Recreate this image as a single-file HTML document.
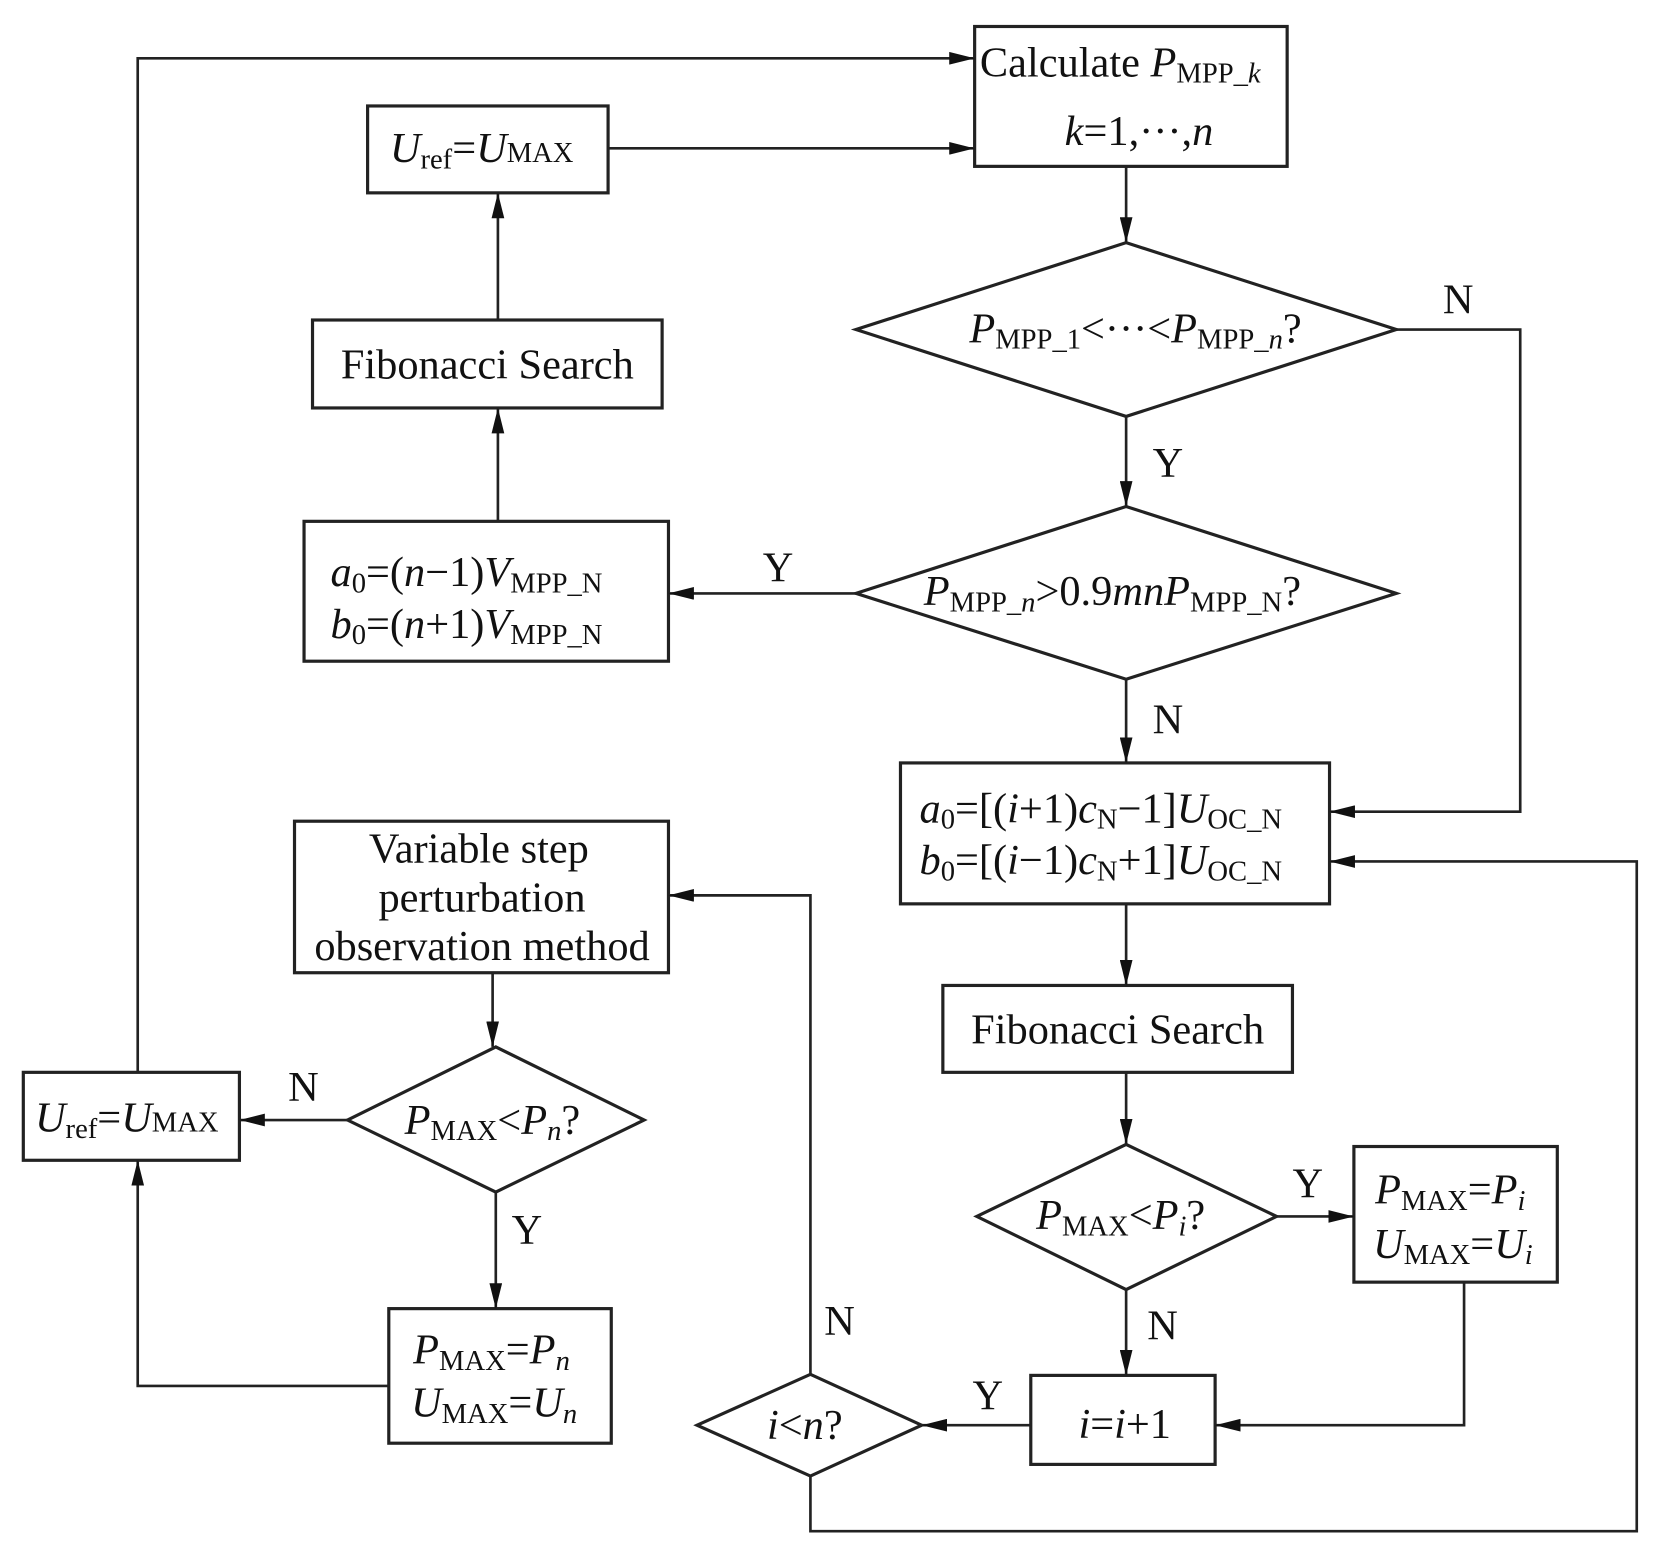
<!DOCTYPE html>
<html><head><meta charset="utf-8"><style>
html,body{margin:0;padding:0;background:#fff;}
svg{display:block;}
text{font-family:"Liberation Serif",serif;font-size:40px;fill:#111;}
.s{font-size:27px;}
.i{font-style:italic;}
</style></head><body>
<svg width="1659" height="1564" viewBox="0 0 1566 1476" preserveAspectRatio="none" xmlns="http://www.w3.org/2000/svg">
<defs>
<marker id="b" viewBox="0 0 24 12" refX="24" refY="6" markerWidth="24" markerHeight="12" orient="auto" markerUnits="userSpaceOnUse"><path d="M0,0 L24,6 L0,12 Z" fill="#111"/></marker></defs>
<g fill="none" stroke="#222" stroke-width="3">
<rect x="920" y="25" width="295" height="132"/>
<rect x="347" y="100" width="227" height="82"/>
<rect x="295" y="302" width="330" height="83"/>
<rect x="287" y="492" width="344" height="132"/>
<polygon points="808,311 1063,229 1318,311 1063,393"/>
<polygon points="808,560 1063,478 1318,560 1063,641"/>
<rect x="850" y="720" width="405" height="133"/>
<rect x="890" y="930" width="330" height="82"/>
<polygon points="922,1148 1063,1080 1205,1148 1063,1217"/>
<rect x="1278" y="1082" width="192" height="128"/>
<rect x="973" y="1298" width="174" height="84"/>
<polygon points="658,1345 765,1297 870,1345 765,1393"/>
<rect x="278" y="775" width="353" height="143"/>
<polygon points="328,1057 468,988 608,1057 468,1125"/>
<rect x="22" y="1012" width="204" height="83"/>
<rect x="367" y="1235" width="210" height="127"/>
</g>
<g fill="none" stroke="#222" stroke-width="2.5" marker-end="url(#b)">
<polyline points="130,1012 130,55 920,55"/>
<line x1="574" y1="140" x2="920" y2="140"/>
<line x1="470" y1="302" x2="470" y2="182"/>
<line x1="470" y1="492" x2="470" y2="385"/>
<line x1="1063" y1="157" x2="1063" y2="229"/>
<polyline points="1318,311 1435,311 1435,766 1255,766"/>
<line x1="1063" y1="393" x2="1063" y2="478"/>
<line x1="808" y1="560" x2="631" y2="560"/>
<line x1="1063" y1="641" x2="1063" y2="720"/>
<line x1="1063" y1="853" x2="1063" y2="930"/>
<line x1="1063" y1="1012" x2="1063" y2="1080"/>
<line x1="1205" y1="1148" x2="1278" y2="1148"/>
<polyline points="1382,1210 1382,1345 1147,1345"/>
<line x1="1063" y1="1217" x2="1063" y2="1298"/>
<line x1="973" y1="1345" x2="870" y2="1345"/>
<polyline points="765,1297 765,845 631,845"/>
<polyline points="765,1393 765,1445 1545,1445 1545,813 1255,813"/>
<line x1="465" y1="918" x2="465" y2="988"/>
<line x1="328" y1="1057" x2="226" y2="1057"/>
<line x1="468" y1="1125" x2="468" y2="1235"/>
<polyline points="367,1308 130,1308 130,1095"/>
</g>
<text x="925" y="72">Calculate <tspan class="i">P</tspan><tspan class="s" dy="6">MPP_</tspan><tspan class="s i">k</tspan></text>
<text x="1005" y="137"><tspan class="i">k</tspan>=1,···,<tspan class="i">n</tspan></text>
<text x="368" y="153"><tspan class="i">U</tspan><tspan class="s" dy="6">ref</tspan><tspan dy="-6">=</tspan><tspan class="i">U</tspan><tspan class="s">MAX</tspan></text>
<text x="460" y="357" text-anchor="middle">Fibonacci Search</text>
<text x="312" y="553"><tspan class="i">a</tspan><tspan class="s" dy="6">0</tspan><tspan dy="-6">=(</tspan><tspan class="i">n</tspan>−1)<tspan class="i">V</tspan><tspan class="s" dy="6">MPP_N</tspan></text>
<text x="312" y="602"><tspan class="i">b</tspan><tspan class="s" dy="6">0</tspan><tspan dy="-6">=(</tspan><tspan class="i">n</tspan>+1)<tspan class="i">V</tspan><tspan class="s" dy="6">MPP_N</tspan></text>
<text x="915" y="323"><tspan class="i">P</tspan><tspan class="s" dy="6">MPP_1</tspan><tspan dy="-6">&lt;···&lt;</tspan><tspan class="i">P</tspan><tspan class="s" dy="6">MPP_</tspan><tspan class="s i">n</tspan><tspan dy="-6">?</tspan></text>
<text x="872" y="571"><tspan class="i">P</tspan><tspan class="s" dy="6">MPP_</tspan><tspan class="s i">n</tspan><tspan dy="-6">&gt;0.9</tspan><tspan class="i">mnP</tspan><tspan class="s" dy="6">MPP_N</tspan><tspan dy="-6">?</tspan></text>
<text x="868" y="776"><tspan class="i">a</tspan><tspan class="s" dy="6">0</tspan><tspan dy="-6">=[(</tspan><tspan class="i">i</tspan>+1)<tspan class="i">c</tspan><tspan class="s" dy="6">N</tspan><tspan dy="-6">−1]</tspan><tspan class="i">U</tspan><tspan class="s" dy="6">OC_N</tspan></text>
<text x="868" y="825"><tspan class="i">b</tspan><tspan class="s" dy="6">0</tspan><tspan dy="-6">=[(</tspan><tspan class="i">i</tspan>−1)<tspan class="i">c</tspan><tspan class="s" dy="6">N</tspan><tspan dy="-6">+1]</tspan><tspan class="i">U</tspan><tspan class="s" dy="6">OC_N</tspan></text>
<text x="1055" y="985" text-anchor="middle">Fibonacci Search</text>
<text x="978" y="1160"><tspan class="i">P</tspan><tspan class="s" dy="6">MAX</tspan><tspan dy="-6">&lt;</tspan><tspan class="i">P</tspan><tspan class="s i" dy="6">i</tspan><tspan dy="-6">?</tspan></text>
<text x="1298" y="1136"><tspan class="i">P</tspan><tspan class="s" dy="6">MAX</tspan><tspan dy="-6">=</tspan><tspan class="i">P</tspan><tspan class="s i" dy="6">i</tspan></text>
<text x="1296" y="1187"><tspan class="i">U</tspan><tspan class="s" dy="6">MAX</tspan><tspan dy="-6">=</tspan><tspan class="i">U</tspan><tspan class="s i" dy="6">i</tspan></text>
<text x="1018" y="1357"><tspan class="i">i</tspan>=<tspan class="i">i</tspan>+1</text>
<text x="724" y="1358"><tspan class="i">i</tspan>&lt;<tspan class="i">n</tspan>?</text>
<text x="452" y="814" text-anchor="middle">Variable step</text>
<text x="455" y="860" text-anchor="middle">perturbation</text>
<text x="455" y="906" text-anchor="middle">observation method</text>
<text x="382" y="1070"><tspan class="i">P</tspan><tspan class="s" dy="6">MAX</tspan><tspan dy="-6">&lt;</tspan><tspan class="i">P</tspan><tspan class="s i" dy="6">n</tspan><tspan dy="-6">?</tspan></text>
<text x="33" y="1068"><tspan class="i">U</tspan><tspan class="s" dy="6">ref</tspan><tspan dy="-6">=</tspan><tspan class="i">U</tspan><tspan class="s">MAX</tspan></text>
<text x="390" y="1287"><tspan class="i">P</tspan><tspan class="s" dy="6">MAX</tspan><tspan dy="-6">=</tspan><tspan class="i">P</tspan><tspan class="s i" dy="6">n</tspan></text>
<text x="388" y="1337"><tspan class="i">U</tspan><tspan class="s" dy="6">MAX</tspan><tspan dy="-6">=</tspan><tspan class="i">U</tspan><tspan class="s i" dy="6">n</tspan></text>
<text x="1362" y="296">N</text>
<text x="1088" y="450">Y</text>
<text x="720" y="549">Y</text>
<text x="1088" y="692">N</text>
<text x="1220" y="1130">Y</text>
<text x="1083" y="1264">N</text>
<text x="918" y="1330">Y</text>
<text x="778" y="1260">N</text>
<text x="272" y="1039">N</text>
<text x="483" y="1174">Y</text>
</svg>
</body></html>
